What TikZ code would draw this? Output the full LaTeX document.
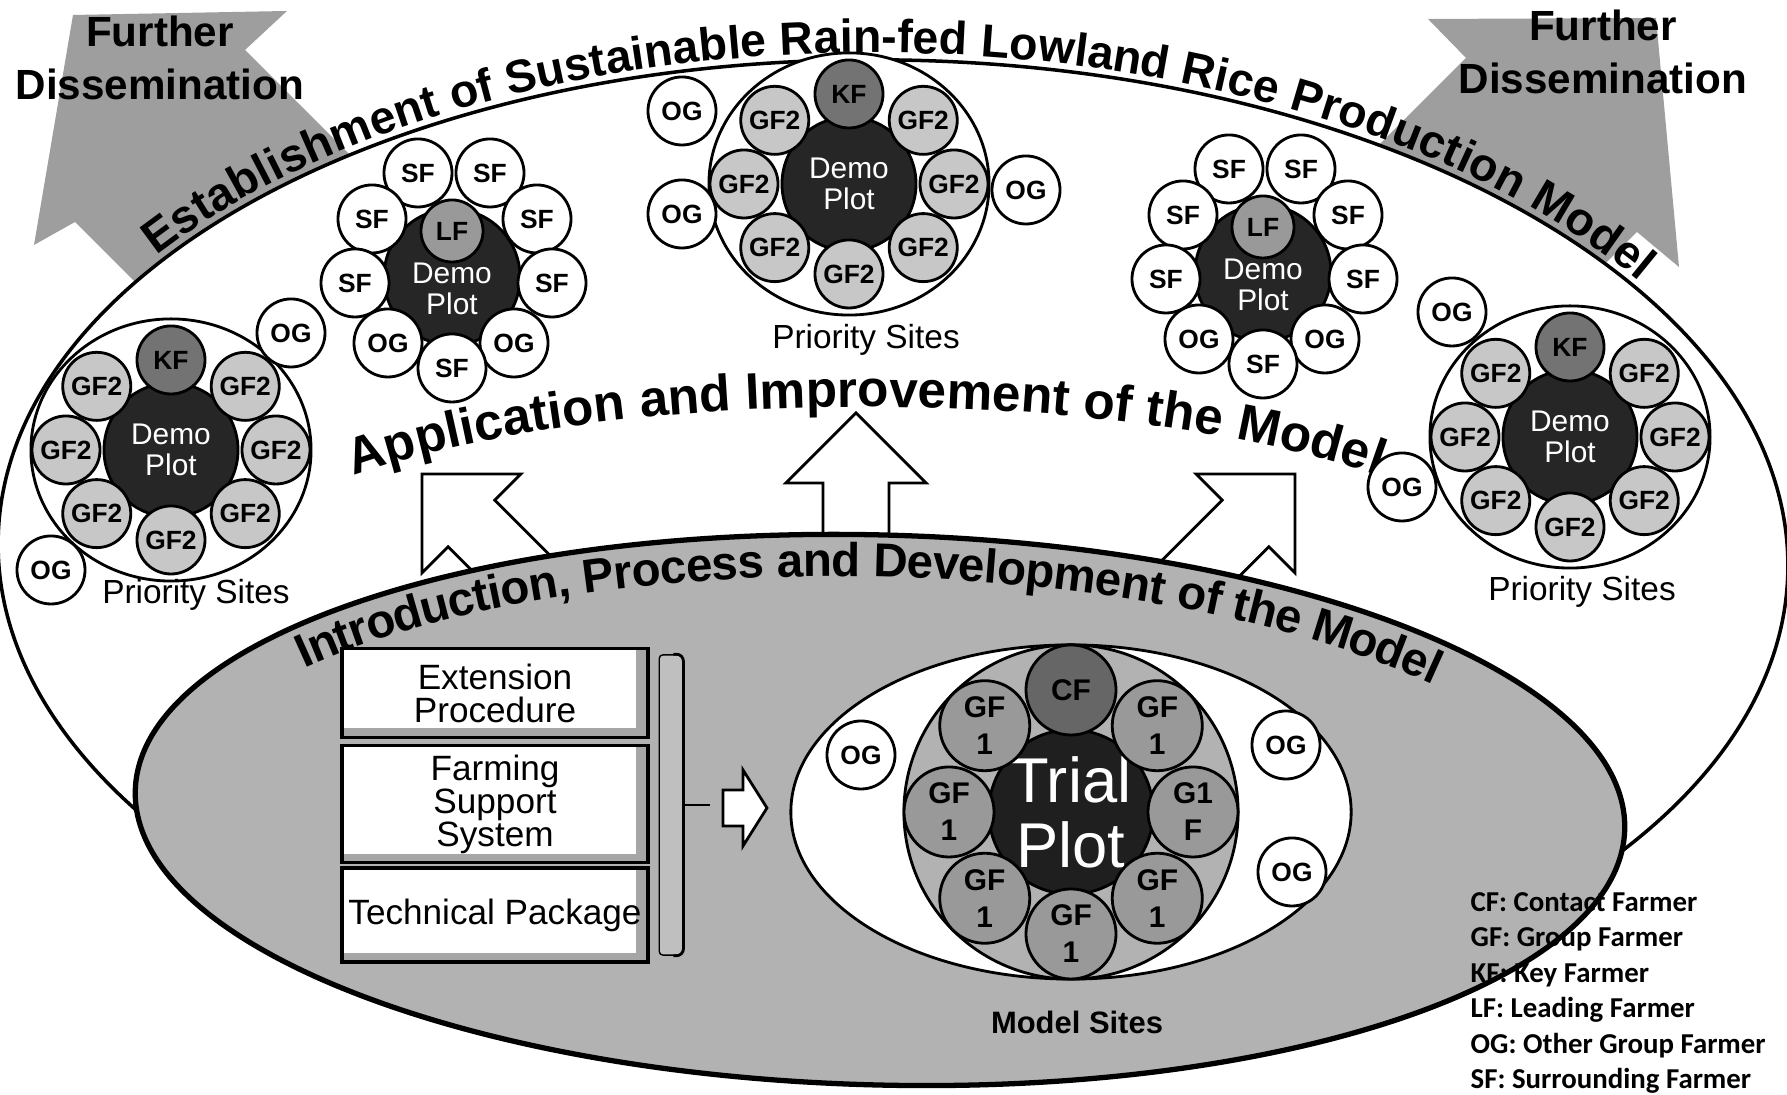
\documentclass[tikz,border=0pt]{standalone}
\usepackage{fontspec}
\setmainfont{Liberation Sans}
\newfontfamily\legendfont{Carlito}
\usetikzlibrary{shapes.geometric, positioning, calc, decorations.text}

\tikzset{
  greyarrow/.style={fill=black!38},
  dissem/.style={align=center, inner sep=0pt, font=\bfseries\fontsize{12}{15}\selectfont},
  site/.style={ellipse, draw, thick, fill=white, inner sep=0pt,
    minimum width=2.8cm, minimum height=2.62cm},
  farmer/.style={circle, draw, thick, fill=white, minimum size=0.68cm,
    inner sep=0pt, font=\bfseries\fontsize{7.5}{8}\selectfont},
  gf/.style={farmer, fill=black!22},
  kf/.style={farmer, fill=black!55},
  lf/.style={farmer, fill=black!40, minimum size=0.62cm},
  demo/.style={circle, draw, thick, fill=black!85, minimum size=1.34cm, inner sep=0pt},
  demotext/.style={text=white, align=center, inner sep=0pt, font=\fontsize{8.5}{9}\selectfont},
  sitelabel/.style={inner sep=0pt, font=\fontsize{9.5}{11}\selectfont},
  gfone/.style={circle, draw, thick, fill=black!40, minimum size=0.9cm, inner sep=0pt,
    align=center, font=\bfseries\fontsize{8.5}{10.5}\selectfont},
  cf/.style={gfone, fill=black!60},
  trial/.style={circle, draw, thick, fill=black!88, minimum size=1.62cm, inner sep=0pt,
    text=white, align=center, font=\fontsize{18}{18.5}\selectfont},
  block/.style={draw, line width=1.1pt, fill=white, minimum width=3.05cm, align=center,
    inner sep=0pt, font=\fontsize{10}{9.4}\selectfont,
    path picture={
      \fill[black!35] (path picture bounding box.south west) rectangle
        ([yshift=0.09cm]path picture bounding box.south east);
      \fill[black!35] ([xshift=-0.12cm]path picture bounding box.south east) rectangle
        (path picture bounding box.north east);}},
  hollow/.style={draw, thick, fill=white, line join=miter},
  legendtext/.style={anchor=base west, inner sep=0pt, font=\legendfont\bfseries\fontsize{8.2}{10}\selectfont},
  uparrow/.pic={\draw[hollow] (0,0) -- (70,-70) -- (33,-70) -- (33,-300) -- (-33,-300)
    -- (-33,-70) -- (-70,-70) -- cycle;},
  rightarrow/.pic={\draw[hollow] (0,0) -- (-24,38) -- (-24,18) -- (-44,18) -- (-44,-18)
    -- (-24,-18) -- (-24,-38) -- cycle;}
}

% demo plot with a key farmer and seven group farmers
\newcommand{\prioritysite}[3]{
  \node[site] (#1) at (#2,#3) {};
  \node[demo] (#1-demo) at (#1) {};
  \node[demotext] (#1-text) at (#1) {Demo\\Plot};
  \node[kf] (#1-kf) at ($(#1)+(90:105 and 90)$) {KF};
  \foreach \a in {0,45,135,180,225,270,315}
    \node[gf] (#1-\a) at ($(#1)+(\a:105 and 90)$) {GF2};
}
% demo plot with a leading farmer and surrounding farmers
\newcommand{\leadsite}[3]{
  \node[demo, minimum size=1.36cm] (#1) at (#2,#3) {};
  \node[lf] (#1-lf) at ($(#1)+(0,46)$) {LF};
  \node[demotext] (#1-text) at ($(#1)+(0,-12)$) {Demo\\Plot};
  \foreach \dx/\dy/\t [count=\i] in {-34/104/SF, 38/104/SF, -80/58/SF, 85/58/SF,
      -97/-6/SF, 100/-6/SF, -64/-66/OG, 62/-66/OG, 0/-91/SF}
    \node[farmer] (#1-\i) at ($(#1)+(\dx,\dy)$) {\t};
}

\begin{document}
\begin{tikzpicture}[x=0.01cm, y=0.01cm]
\useasboundingbox (0,0) rectangle (1787,1095);

% further dissemination
\fill[greyarrow] (73,1080) -- (287,1084) -- (245,1045) -- (545,745) -- (375,573)
  -- (75,873) -- (34,850) -- cycle;
\fill[greyarrow] (1656,1077) -- (1679,828) -- (1637,863) -- (1387,613) -- (1216,787)
  -- (1466,1037) -- (1428,1076) -- cycle;
\node[dissem] (dissL) at (160,1037) {Further\\Dissemination};
\node[dissem] (dissR) at (1603,1043) {Further\\Dissemination};

% establishment
\begin{scope}[shift={(893,540)}, rotate=-1]
  \draw[line width=1pt, fill=white] (0,0) ellipse [x radius=895, y radius=495];
  \path[decorate, decoration={text along path, text align=center, raise=2pt,
      text={|\bfseries\fontsize{13.2}{16}\selectfont|Establishment of Sustainable Rain-fed Lowland Rice Production Model}}]
    (165:895 and 495) arc [start angle=165, end angle=15, x radius=895, y radius=495];
\end{scope}

\pic[rotate=45] at (422,621) {uparrow};
\pic at (856,682) {uparrow};
\pic[rotate=-45] at (1295,621) {uparrow};

% introduction
\begin{scope}[shift={(880,285)}, rotate=-1.5]
  \draw[line width=1.5pt, fill=black!30] (0,0) ellipse [x radius=745, y radius=275];
  \path[decorate, decoration={text along path, text align=center, raise=-12pt,
      text={|\bfseries\fontsize{13.5}{16}\selectfont|Introduction, Process and Development of the Model}}]
    (178:745 and 275) arc [start angle=178, end angle=9, x radius=745, y radius=275];
\end{scope}

% application
\path[decorate, decoration={text along path, text align=center,
    text={|\bfseries\fontsize{14.6}{17}\selectfont|Application and Improvement of the Model}}]
  ($(866,517)+(170:638 and 171)$) arc [start angle=170, end angle=10, x radius=638, y radius=171];

% priority sites
\prioritysite{L1}{171}{645}
\prioritysite{C1}{849}{911}
\prioritysite{R1}{1570}{658}
\leadsite{LF1}{452}{818}
\leadsite{LF2}{1263}{822}

\node[farmer] (L1-og1) at (291,762) {OG};
\node[farmer] (L1-og2) at (51,525) {OG};
\node[farmer] (C1-og1) at (682,984) {OG};
\node[farmer] (C1-og2) at (682,881) {OG};
\node[farmer] (C1-og3) at (1026,905) {OG};
\node[farmer] (R1-og1) at (1452,783) {OG};
\node[farmer] (R1-og2) at (1402,608) {OG};

\node[sitelabel] (L1-lbl) at (196,500) {Priority Sites};
\node[sitelabel] (C1-lbl) at (866,755) {Priority Sites};
\node[sitelabel] (R1-lbl) at (1582,503) {Priority Sites};

% extension tools
\node[block, minimum height=0.89cm] (ext) at (495,402) {Extension\\Procedure};
\node[block, minimum height=1.17cm] (fss) at (495,291) {Farming\\Support\\System};
\node[block, minimum height=0.94cm] (tech) at (495,180) {Technical Package};
\node[draw, thin, fill=black!25, rounded corners=1pt, minimum width=0.22cm,
  minimum height=3cm] (brk) at (671,290) {};
\draw[thick, rounded corners=2pt] ($(brk.north east)+(-10,0)$) -| (brk.south east) -- ++(-10,0);
\coordinate (tick) at (710,290);
\draw[thick] (brk.east) -- (tick);
\pic at (767,287) {rightarrow};

% model sites
\node[site, minimum width=5.6cm, minimum height=3.34cm] (model) at (1071,283) {};
\node[circle, draw, thick, fill=black!30, minimum size=3.34cm] (ring) at (model) {};
\node[trial] (trial) at (model) {Trial\\Plot};
\node[cf] (m-90) at ($(model)+(90:122)$) {CF};
\foreach \a/\t in {45/GF\\1, 135/GF\\1, 180/GF\\1, 0/G1\\F, 225/GF\\1, 270/GF\\1, 315/GF\\1}
  \node[gfone] (m-\a) at ($(model)+(\a:122)$) {\t};
\node[farmer] (m-og1) at (861,340) {OG};
\node[farmer] (m-og2) at (1286,350) {OG};
\node[farmer] (m-og3) at (1292,223) {OG};
\node[sitelabel, font=\bfseries\fontsize{8.8}{10}\selectfont] (m-lbl) at (1077,73) {Model Sites};

% legend
\foreach \t [count=\i] in {CF: Contact Farmer, GF: Group Farmer, KF: Key Farmer,
    LF: Leading Farmer, OG: Other Group Farmer, SF: Surrounding Farmer}
  \node[legendtext] (key\i) at (1470,219-35.5*\i) {\t};
\end{tikzpicture}
\end{document}
